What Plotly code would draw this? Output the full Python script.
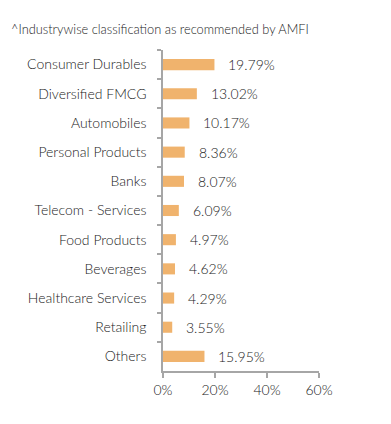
import plotly.graph_objects as go

categories = ["Consumer Durables", "Diversified FMCG", "Automobiles", "Personal Products",
              "Banks", "Telecom - Services", "Food Products", "Beverages",
              "Healthcare Services", "Retailing", "Others"]
values = [19.79, 13.02, 10.17, 8.36, 8.07, 6.09, 4.97, 4.62, 4.29, 3.55, 15.95]
x_ticks = [0, 20, 40, 60]
x_ticklabels = ["0%", "20%", "40%", "60%"]
title_text = "^Industrywise classification as recommended by AMFI"

FONT = "'Lato Light', Lato, 'Open Sans', sans-serif"
TXT = "#222222"
AXIS = "#a6a6a6"

fig = go.Figure(go.Bar(
    x=values, y=categories, orientation="h",
    marker=dict(color="#F0B36D", line=dict(width=0)),
    width=0.38,
    hoverinfo="skip",
))

for c, v in zip(categories, values):
    fig.add_annotation(x=v, y=c, text=f"{v:.2f}%", showarrow=False,
                       xanchor="left", yanchor="middle", xshift=12,
                       font=dict(family=FONT, size=14, color=TXT))

fig.add_annotation(x=-154/156, y=1 + 21/321, xref="paper", yref="paper", text=title_text,
                   showarrow=False, xanchor="left", yanchor="middle",
                   font=dict(family=FONT, size=12.8, color=TXT))

fig.update_layout(
    width=383, height=416,
    margin=dict(l=155, r=72, t=42, b=53),
    paper_bgcolor="white", plot_bgcolor="white",
    showlegend=False,
    font=dict(family=FONT, color=TXT),
    xaxis=dict(range=[0, 60], tickvals=x_ticks, ticktext=x_ticklabels,
               showgrid=False, zeroline=False, showline=True, linecolor=AXIS, linewidth=1.5,
               ticks="outside", ticklen=5, tickcolor=AXIS, tickwidth=1.5,
               tickfont=dict(family=FONT, size=14, color=TXT), fixedrange=True),
    yaxis=dict(categoryorder="array", categoryarray=categories, autorange="reversed",
               showgrid=False, zeroline=False, showline=True, linecolor=AXIS, linewidth=1.5,
               ticks="outside", ticklen=4, tickcolor=AXIS, tickwidth=1.5, tickson="boundaries",
               ticklabelstandoff=12,
               tickfont=dict(family=FONT, size=14, color=TXT), fixedrange=True),
)

fig.write_html("out.html", config={"displayModeBar": False})
